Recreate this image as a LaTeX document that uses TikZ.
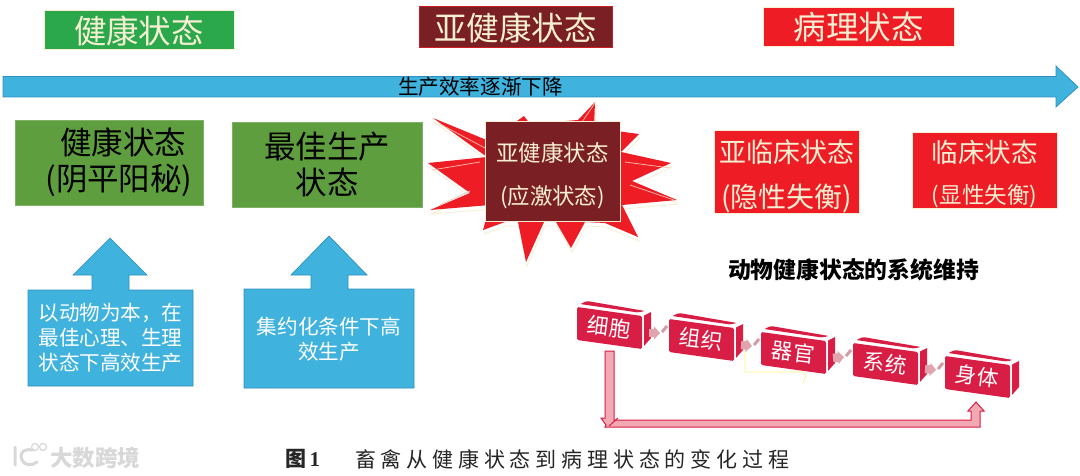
\documentclass[tikz,border=0pt]{standalone}
\usepackage{fontspec}
\usetikzlibrary{arrows.meta,calc}
\setmainfont{Noto Sans CJK SC}
\newfontfamily\capserif{Liberation Serif}
\definecolor{tgreen}{HTML}{2BA84C}
\definecolor{bgreen}{HTML}{5E9E3F}
\definecolor{dred}{HTML}{7A1F23}
\definecolor{bred}{HTML}{EE1C25}
\definecolor{sky}{HTML}{3FB2DE}
\definecolor{skyd}{HTML}{2F8FBC}
\definecolor{cream}{HTML}{F6EFD2}
\definecolor{crim}{HTML}{D81E45}
\definecolor{rosef}{HTML}{F2A9B4}
\definecolor{wm}{HTML}{D8D8D8}
\newcommand\fs[2]{\fontsize{#1}{#2}\selectfont}
\tikzset{
  every node/.style={inner sep=0pt,outer sep=0pt},
  titlebox/.style={draw=cream,line width=1pt,text=cream,align=center,font=\fs{32.5}{38},minimum height=39pt},
  greenbox/.style={fill=bgreen,draw=bgreen!80!white,line width=.6pt,text=black,align=center},
  redbox/.style={fill=bred,draw=cream,line width=1pt,text=cream,align=center},
  calloutshape/.style={fill=sky,draw=skyd,line width=.7pt,line join=miter},
  callouttext/.style={text=white,align=center,font=\fs{20.6}{24.8}},
  cubetext/.style={text=white,font=\fs{21.5}{24},rotate=-7},
  cubeface/.style={fill=crim,rounded corners=1.5pt},
  minor/.style={line width=8.5pt,rosef!85!gray,-{Triangle[length=6pt,width=13pt]}},
}
% name, x, y, text
\newcommand\cubebox[4]{%
  \begin{scope}[shift={(#2,#3)}]
    \fill[cubeface] (10,-6) -- (68,4) -- (61,5.5) -- (3,-3) -- cycle;
    \fill[cubeface] (0,0) -- (65,9) -- (65,42) -- (0,33) -- cycle;
    \fill[crim] (67,8.5) -- (74,5) -- (74,31) -- (67,39) -- cycle;
    \node[cubetext] (#1) at (32,20) {#4};
    \coordinate (#1-out) at (72,26);
    \coordinate (#1-in) at (-9,14);
  \end{scope}}
\newcommand\stripe[1]{\draw[rosef!70!gray,line width=3pt] ($(#1)+(2,-1)$) -- ($(#1)+(7,-7)$);}
\begin{document}
\begin{tikzpicture}[x=1pt,y=-1pt]
\useasboundingbox (0,0) rectangle (1080,476);
\fill[white] (0,0) rectangle (1080,476);

% top titles
\node[titlebox,fill=tgreen,minimum width=190pt] (t1) at (139,30.5) {健康状态};
\node[titlebox,fill=dred,draw=bred!70!dred,minimum width=193pt,minimum height=41pt] (t2) at (515.5,27.5) {亚健康状态};
\node[titlebox,fill=bred,minimum width=191pt] (t3) at (858.5,27.5) {病理状态};

% main arrow
\fill[sky,draw=skyd,line width=.7pt] (3,76.5) -- (1056,76.5) -- (1056,66) -- (1078,87) -- (1056,107) -- (1056,97) -- (3,97) -- cycle;
\node[text=black,font=\fs{20.6}{24}] (trend) at (480.5,87) {生产效率逐渐下降};

% star
\def\starpts{(433,118) -- (489,141) -- (524,116) -- (530,124) -- (578,120) -- (595,102) -- (594,128) -- (639,134) -- (621,152) -- (671,163) -- (632,181) -- (677,200) -- (622,205) -- (638,237) -- (605,223) -- (585,222) -- (571,248) -- (556,222) -- (544,222) -- (526,262) -- (518,222) -- (505,222) -- (483,230) -- (490,205) -- (430,210) -- (470,193) -- (428,163) -- (487,157) -- cycle}
\draw[cream,line width=.8pt,shift={(1,4)}] \starpts;
\fill[bred] \starpts;
\draw[cream!80!bred,line width=.7pt] (440,124) -- (485,148) (432,170) -- (480,162) (440,205) -- (470,191) (595,103) -- (580,125) (670,168) -- (625,162) (630,185) -- (674,200);

% lower boxes
\node[greenbox,minimum width=188pt,minimum height=85pt] (s1) at (109,162.5) {\fs{31.5}{38}\hspace*{28pt}健康状态\\[6pt]\fs{31.5}{38}\hspace*{20pt}(阴平阳秘)};
\node[greenbox,minimum width=190pt,minimum height=85pt] (s2) at (327,164.5) {\fs{31.5}{38}最佳生产\\[6pt]\fs{31.5}{38}状态};
\node[fill=dred,draw=cream,line width=1pt,text=cream,align=center,minimum width=135pt,minimum height=100pt] (s3) at (552.5,172) {\fs{22.4}{27}\rule{0pt}{27pt}亚健康状态\\[21pt]\fs{22.4}{27}(应激状态)};
\node[redbox,minimum width=145pt,minimum height=80pt] (s4) at (786.5,172) {\fs{27}{32}\rule{0pt}{32pt}亚临床状态\\[18pt]\fs{28}{32}(隐性失衡)};
\node[redbox,minimum width=145pt,minimum height=73pt] (s5) at (984.5,170.5) {\fs{26.5}{32}\rule{0pt}{30pt}临床状态\\[19pt]\fs{22.5}{27}(显性失衡)};

% callouts
\draw[calloutshape] (110,238) -- (147,275) -- (129,275) -- (129,290) -- (193,290) -- (193,386) -- (28,386) -- (28,290) -- (92,290) -- (92,275) -- (73,275) -- cycle;
\node[callouttext] (c1) at (110.5,338) {以动物为本，在\\最佳心理、生理\\状态下高效生产};
\draw[calloutshape] (329,236) -- (367,275) -- (348,275) -- (348,289) -- (414,289) -- (414,388) -- (244,388) -- (244,289) -- (311,289) -- (311,275) -- (291,275) -- cycle;
\node[callouttext] (c2) at (329,339) {集约化条件下高\\效生产};

% maintenance
\node[text=black,font=\fs{22.8}{26}\bfseries] (mt) at (853.5,270) {动物健康状态的系统维持};
\draw[cream!60!yellow,line width=.6pt] (745,345) -- (745,372) -- (803,372) -- (806,375) -- (803,383);
\cubebox{cell}{577}{307}{细胞}
\cubebox{tissue}{669}{319}{组织}
\cubebox{organ}{761}{332}{器官}
\cubebox{sys}{853}{343}{系统}
\cubebox{body}{945}{356}{身体}
\draw[minor] (cell-out) -- (tissue-in); \stripe{tissue-in}
\draw[minor] (tissue-out) -- (organ-in); \stripe{organ-in}
\draw[minor] (organ-out) -- (sys-in); \stripe{sys-in}
\draw[minor] (sys-out) -- (body-in); \stripe{body-in}

% return arrow
\draw[fill=rosef,draw=crim,line width=1pt,line join=miter] (605,351) -- (614,351) -- (614,420) -- (971,420) -- (971,411) -- (968,411) -- (976,402) -- (984,411) -- (980,411) -- (980,427) -- (605,427) -- (606,425) -- (601,418) -- (605,418) -- cycle;
\draw[crim,line width=1pt] (618,418) -- (609,426);

% watermark
\draw[wm,line width=3pt,line cap=round] (15,447) -- (15,465) (33,450) .. controls (22,448) and (19,455) .. (22,460) .. controls (25,466) and (32,466) .. (37,462);
\draw[wm,line width=1.2pt] (35,447) circle (3.5pt) (43,447) circle (3.5pt);
\node[text=wm,font=\fs{22.5}{26}\bfseries] (wmk) at (95,458) {大数跨境};

% caption
\node[text=black!85,font=\fs{21}{25}\bfseries,anchor=west] (fig) at (285,459) {图\,{\capserif 1}};
\node[text=black!85,font=\fs{21}{25}\addfontfeature{LetterSpace=23},anchor=west] (cap) at (355,459) {畜禽从健康状态到病理状态的变化过程};
\end{tikzpicture}
\end{document}
